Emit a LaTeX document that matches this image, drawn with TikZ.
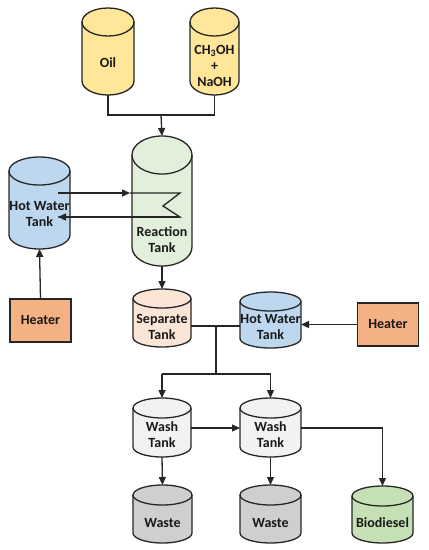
\documentclass[tikz,border=0pt]{standalone}
\usepackage{fontspec}
\setmainfont{Carlito}
\usetikzlibrary{arrows.meta}
\definecolor{lnc}{HTML}{262626}
\definecolor{oilc}{HTML}{FFE699}
\definecolor{reactc}{HTML}{E2EFDA}
\definecolor{hotc}{HTML}{BDD7EE}
\definecolor{heatc}{HTML}{F4B183}
\definecolor{sepc}{HTML}{FBE5D6}
\definecolor{washc}{HTML}{F2F2F2}
\definecolor{wastec}{HTML}{D0CECE}
\definecolor{bioc}{HTML}{C5E0B4}
\tikzset{
  tankbox/.style={rectangle, inner sep=0pt, outer sep=0pt},
  tankline/.style={draw=lnc, line width=1.3pt, line join=round},
  tanktext/.style={align=center, inner sep=0pt, text=black!90, font=\bfseries\fontsize{14}{16}\selectfont},
  heaterbox/.style={rectangle, draw=lnc, line width=1.3pt, fill=heatc, minimum width=61pt, minimum height=43pt, inner sep=0pt, text=black!90, font=\bfseries\fontsize{14}{16}\selectfont},
  conn/.style={draw=lnc, line width=1.3pt},
  arr/.style={conn, -{Triangle[length=8pt,width=7pt]}}
}
\newcommand\drawtank[9]{%
 \pgfmathsetmacro\tkrx{(#4-#2)/2}%
 \pgfmathsetmacro\tkcx{(#2+#4)/2}%
 \pgfmathsetmacro\tkw{#4-#2}%
 \pgfmathsetmacro\tkh{#5-#3}%
 \pgfmathsetmacro\tkcy{-(#3+#5)/2}%
 \node[tankbox, minimum width=\tkw pt, minimum height=\tkh pt] (#1) at (\tkcx,\tkcy) {};%
 \filldraw[tankline, fill=#7] (#2,{-#3-#6}) -- (#2,{-#5+#6}) arc[start angle=180,end angle=360,x radius=\tkrx,y radius=#6] -- (#4,{-#3-#6}) arc[start angle=0,end angle=180,x radius=\tkrx,y radius=#6] -- cycle;%
 \draw[tankline] (#2,{-#3-#6}) arc[start angle=180,end angle=360,x radius=\tkrx,y radius=#6];%
 \node[tanktext] (#1t) at (\tkcx,-#8) {#9};%
}
\begin{document}
\begin{tikzpicture}[x=1pt,y=1pt]
\useasboundingbox (0,0) rectangle (429,-550);
% tanks
\drawtank{oil}{82}{8}{134}{95}{14}{oilc}{63}{Oil}
\drawtank{meth}{190}{8}{239}{95}{14}{oilc}{66}{CH\textsubscript{3}OH\\+\\NaOH}
\drawtank{react}{132}{136}{192}{266}{19}{reactc}{240}{Reaction\\Tank}
\drawtank{hotl}{9}{157}{70}{249}{14}{hotc}{214}{Hot Water\\Tank}
\drawtank{sep}{133}{289}{191}{347}{9.5}{sepc}{327}{Separate\\Tank}
\drawtank{hotr}{240}{292}{301}{348}{9.5}{hotc}{327}{Hot Water\\Tank}
\drawtank{washa}{133}{398}{191}{457}{10}{washc}{435}{Wash\\Tank}
\drawtank{washb}{240}{398}{301}{457}{10}{washc}{435}{Wash\\Tank}
\drawtank{wastea}{133}{485}{192}{543}{10}{wastec}{523}{Waste}
\drawtank{wasteb}{240}{485}{301}{543}{10}{wastec}{523}{Waste}
\drawtank{bio}{352}{486}{413}{543}{10}{bioc}{523}{Biodiesel}
% heaters
\node[heaterbox] (heatl) at (40.5,-320.5) {Heater};
\node[heaterbox] (heatr) at (388,-324.5) {Heater};
% coordinates
\coordinate (mix) at (161,-115);
\coordinate (hwa) at (58,-193);
\coordinate (hwm) at (130,-193);
\coordinate (zza) at (180,-193);
\coordinate (zzb) at (163,-206);
\coordinate (zzc) at (180,-217);
\coordinate (hwb) at (58,-217);
\coordinate (sepout) at (191,-326);
\coordinate (hotin) at (240,-326);
\coordinate (jn) at (216,-326);
\coordinate (jd) at (216,-374);
\coordinate (jl) at (162,-374);
\coordinate (jr) at (270.5,-374);
% connectors
\draw[conn] (oil.south) |- (mix) -| (meth.south);
\draw[arr] (mix) -- (react.north);
\draw[arr] (hwa) -- (hwm);
\draw[conn] (hwm) -- (zza) -- (zzb) -- (zzc) -- (hwb);
\draw[arr] (zzc) -- (hwb);
\draw[arr] (heatl.north) -- (hotl.south);
\draw[arr] (react.south) -- (sep.north);
\draw[conn] (sepout) -- (hotin);
\draw[conn] (jn) -- (jd);
\draw[conn] (jl) -- (jr);
\draw[arr] (jl) -- (washa.north);
\draw[arr] (jr) -- (washb.north);
\draw[arr] (heatr.west) -- (hotr.east |- heatr.west);
\draw[arr] (washa.east |- 0,-428) -- (washb.west |- 0,-428);
\draw[arr] (washb.east |- 0,-428) -| (bio.north);
\draw[arr] (washa.south) -- (wastea.north);
\draw[arr] (washb.south) -- (wasteb.north);
\end{tikzpicture}
\end{document}
